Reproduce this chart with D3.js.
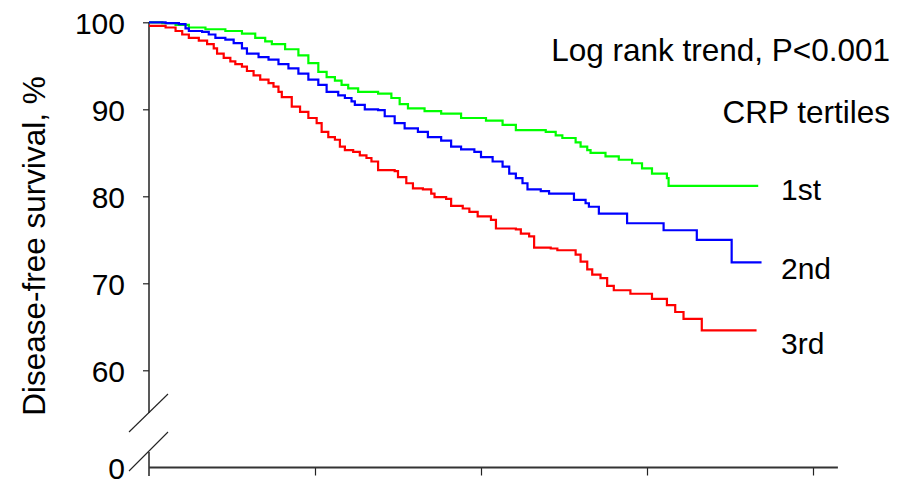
<!DOCTYPE html>
<meta charset="utf-8">
<style>
body{margin:0;background:#fff;font-family:"Liberation Sans",Arial,sans-serif;}
svg text{fill:#000;}
</style>
<body>
<div id="chart"></div>
<script src="https://d3js.org/d3.v7.min.js"></script>
<script>

var width = 898,
    height = 481;

// tick labels
var yTicks = [60, 70, 80, 90, 100];
var yTickBreak = [0];
var xTicks = [1, 2, 3, 4];

// CRP tertiles, [years, % disease-free]
var groups = ["1st", "2nd", "3rd"];
var colors = ["#00ff00", "#0000ff", "#ff0000"];

var tertile1 = [[0,100],[0.08,99.9],[0.16,99.7],[0.24,99.4],[0.34,99.2],[0.46,99.0],[0.56,98.7],
  [0.64,98.2],[0.70,97.8],[0.74,97.5],[0.82,96.9],[0.90,96.2],[0.96,95.3],[1.02,94.3],[1.07,93.7],
  [1.12,93.3],[1.16,92.8],[1.20,92.4],[1.26,92.0],[1.38,91.8],[1.46,91.3],[1.51,90.6],[1.56,90.1],
  [1.66,89.8],[1.76,89.5],[1.88,89.0],[2.03,88.7],[2.13,88.2],[2.21,87.6],[2.39,87.4],[2.45,87.0],
  [2.49,86.7],[2.57,86.2],[2.60,85.7],[2.64,85.3],[2.66,85.0],[2.75,84.6],[2.83,84.2],[2.91,83.8],
  [2.97,83.2],[3.03,82.6],[3.12,82.1],[3.13,81.2],[3.67,81.2]];

var tertile2 = [[0,100],[0.10,99.9],[0.18,99.8],[0.22,99.3],[0.24,99.0],[0.32,98.9],[0.36,98.6],
  [0.40,98.2],[0.46,98.0],[0.51,97.6],[0.56,97.0],[0.59,96.4],[0.66,96.0],[0.72,95.7],[0.78,95.2],
  [0.84,94.7],[0.90,94.1],[0.96,93.4],[1.02,92.8],[1.07,92.0],[1.14,91.6],[1.18,91.3],[1.22,90.9],
  [1.24,90.5],[1.30,90.0],[1.38,89.9],[1.42,89.2],[1.48,88.4],[1.54,87.8],[1.62,87.4],[1.68,86.8],
  [1.76,86.4],[1.82,85.7],[1.88,85.4],[1.96,85.1],[2.00,84.5],[2.07,84.0],[2.13,83.4],[2.17,82.6],
  [2.21,82.1],[2.25,81.5],[2.28,80.8],[2.36,80.6],[2.41,80.3],[2.56,79.6],[2.63,79.2],[2.65,78.8],
  [2.71,78.0],[2.88,76.9],[3.10,76.1],[3.30,75.0],[3.51,72.4],[3.69,72.4]];

var tertile3 = [[0,99.6],[0.10,99.4],[0.16,99.0],[0.20,98.6],[0.24,98.2],[0.30,97.9],[0.35,97.5],
  [0.39,97.0],[0.41,96.4],[0.45,95.9],[0.49,95.5],[0.52,95.2],[0.56,94.9],[0.59,94.4],[0.63,93.9],
  [0.67,93.4],[0.72,93.0],[0.75,92.6],[0.78,92.0],[0.80,91.4],[0.86,90.3],[0.91,89.7],[0.96,89.0],
  [1.01,88.4],[1.04,87.4],[1.08,86.8],[1.12,86.5],[1.15,85.7],[1.18,85.3],[1.23,85.1],[1.27,84.7],
  [1.31,84.4],[1.34,84.0],[1.38,83.0],[1.48,82.9],[1.50,82.2],[1.55,81.5],[1.59,80.9],[1.65,80.8],
  [1.70,80.3],[1.72,79.9],[1.79,79.7],[1.82,78.9],[1.89,78.6],[1.93,78.2],[1.98,77.7],[2.06,77.3],
  [2.09,76.3],[2.21,76.2],[2.24,75.7],[2.29,75.4],[2.32,74.1],[2.42,74.0],[2.46,73.8],[2.57,73.3],
  [2.60,72.5],[2.64,71.6],[2.67,71.0],[2.72,70.6],[2.76,69.7],[2.80,69.2],[2.90,68.8],[3.03,68.2],
  [3.12,67.5],[3.17,66.7],[3.22,65.9],[3.33,64.6],[3.66,64.6]];

var curves = [tertile1, tertile2, tertile3];

var svg = d3.select("#chart").append("svg")
    .attr("width", width)
    .attr("height", height);

var x = d3.scaleLinear().domain([0, 4]).range([149, 813]);
var y = d3.scaleLinear().domain([60, 100]).range([370.3, 22.3]);
// the bit below the break: 0 sits on the x axis
var yLow = d3.scaleLinear().domain([0, 10]).range([467.5, 380]);

var x0 = x(0), xBase = yLow(0);

// y axis, upper part
var yAxis = svg.append("g")
    .attr("transform", "translate(" + x0 + ",0)")
    .call(d3.axisLeft(y).tickValues(yTicks).tickSize(6).tickPadding(18));
yAxis.select(".domain").remove();

var yAxisLow = svg.append("g")
    .attr("transform", "translate(" + x0 + ",0)")
    .call(d3.axisLeft(yLow).tickValues(yTickBreak).tickSize(0).tickPadding(24));
yAxisLow.select(".domain").remove();

svg.selectAll(".tick text")
    .style("font-family", "'Liberation Sans', Arial, sans-serif")
    .style("font-size", "30px")
    .attr("dy", "0.36em");
svg.selectAll(".tick line").attr("stroke", "#222").attr("stroke-width", 1.2);

svg.append("line")
    .attr("x1", x0).attr("x2", x0)
    .attr("y1", y(100)).attr("y2", 413)
    .attr("stroke", "#222").attr("stroke-width", 1.5);
svg.append("line")
    .attr("x1", x0).attr("x2", x0)
    .attr("y1", 452).attr("y2", 476)
    .attr("stroke", "#222").attr("stroke-width", 1.5);

// break marks
svg.append("line")
    .attr("x1", 129).attr("y1", 432).attr("x2", 168).attr("y2", 394)
    .attr("stroke", "#222").attr("stroke-width", 1.1);
svg.append("line")
    .attr("x1", 129).attr("y1", 471).attr("x2", 168).attr("y2", 432)
    .attr("stroke", "#222").attr("stroke-width", 1.1);

// x axis
var xAxis = svg.append("g")
    .attr("transform", "translate(0," + xBase + ")")
    .call(d3.axisBottom(x).tickValues(xTicks).tickSize(8).tickFormat(""));
xAxis.select(".domain").remove();
xAxis.selectAll(".tick line").attr("stroke", "#222").attr("stroke-width", 1.2);

svg.append("line")
    .attr("x1", x0).attr("x2", x(4.15))
    .attr("y1", xBase).attr("y2", xBase)
    .attr("stroke", "#333").attr("stroke-width", 2);

// survival curves
var line = d3.line()
    .curve(d3.curveStepAfter)
    .x(function(d) { return x(d[0]); })
    .y(function(d) { return y(d[1]); });

svg.selectAll(".km")
    .data(curves)
  .enter().append("path")
    .attr("class", "km")
    .attr("d", line)
    .style("fill", "none")
    .style("stroke", function(d, i) { return colors[i]; })
    .style("stroke-width", 2.2);

// labels
var labelY = [200, 278.5, 354];
svg.selectAll(".grp")
    .data(groups)
  .enter().append("text")
    .attr("class", "grp")
    .attr("x", 781)
    .attr("y", function(d, i) { return labelY[i]; })
    .style("font-size", "30px")
    .text(function(d) { return d; });

svg.append("text")
    .attr("x", 890).attr("y", 60.5)
    .attr("text-anchor", "end")
    .style("font-size", "31.5px")
    .text("Log rank trend, P<0.001");

svg.append("text")
    .attr("x", 890).attr("y", 122.5)
    .attr("text-anchor", "end")
    .style("font-size", "31.5px")
    .text("CRP tertiles");

svg.append("text")
    .attr("transform", "translate(45,246) rotate(-90)")
    .attr("text-anchor", "middle")
    .style("font-size", "31.5px")
    .text("Disease-free survival, %");

</script>
</body>
</html>
